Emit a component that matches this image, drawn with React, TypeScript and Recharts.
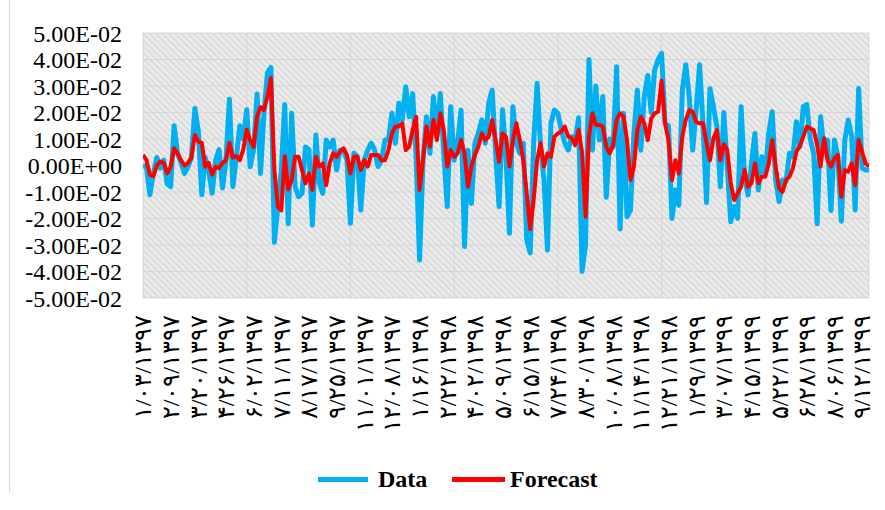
import React from 'react';
import { LineChart, Line, XAxis, YAxis, CartesianGrid } from 'recharts';

// Persian date labels (every 8th observation)
const dateLabels = [
  '۱/۰۳/۱۳۹۷', '۲/۰۹/۱۳۹۷', '۳/۲۰/۱۳۹۷', '۴/۲۶/۱۳۹۷', '۶/۰۲/۱۳۹۷', '۷/۱۱/۱۳۹۷',
  '۸/۱۷/۱۳۹۷', '۹/۲۵/۱۳۹۷', '۱۱/۰۱/۱۳۹۷', '۱۲/۰۸/۱۳۹۷', '۱/۱۶/۱۳۹۸', '۲/۲۲/۱۳۹۸',
  '۴/۰۲/۱۳۹۸', '۵/۰۹/۱۳۹۸', '۶/۱۵/۱۳۹۸', '۷/۲۴/۱۳۹۸', '۸/۳۰/۱۳۹۸', '۱۰/۰۸/۱۳۹۸',
  '۱۱/۱۴/۱۳۹۸', '۱۲/۲۱/۱۳۹۸', '۱/۲۹/۱۳۹۹', '۳/۰۷/۱۳۹۹', '۴/۱۵/۱۳۹۹', '۵/۲۲/۱۳۹۹',
  '۶/۲۸/۱۳۹۹', '۸/۰۶/۱۳۹۹', '۹/۱۲/۱۳۹۹',
];

// values in units of 1E-03
const dataValues = [
  0, -0.5, -11, -3, 3, -1, 2, -7, -8, 15,
  4.5, 1, -3, -0.5, 3, 21.5, 13, -11, 3, -2,
  -10.5, 2, 6, -8.5, 2, 25, -8, 3, 15, 10,
  21, -0.5, 6, 27, -3, 20, 35, 37, -29, -15.5,
  -2, 23, -22, 19.7, -8, -11.8, -10.5, 7, 6, -22.5,
  11.5, -6.7, -10.5, 9.6, 7, 9.6, -1.7, 5.8, 5.8, 2,
  -21.8, 4.6, 3.3, -16.8, 2, 5.8, 8.4, 5.8, -0.4, 2,
  9.6, 9.6, 19.7, 8.4, 23.5, 17.2, 29.7, 18.4, 27.2, 3.3,
  -35.7, 2, 18.4, 4.6, 26, 10.9, 27.2, 4.6, -15.5, 22.2,
  2, 8.4, 20.9, -30.6, 5.8, -14.3, 8.4, 12.1, 17.2, 8.4,
  23.5, 28.5, 4.6, -15.5, 21, 3.3, -25.6, 22.2, 8.4, 4.6,
  8.4, -28, -33, 8.4, 31, 7.1, -5.5, -31.9, 16, 20.9,
  19.7, 13.4, 8.4, 5.8, 10.9, 9.6, 18, -40, -30, 40,
  5.8, 30, 9.6, 26, -12, 10, 7, 37.3, -24, 19.7,
  -19.3, -16.8, 12.1, 28.5, 5.8, 26, 34, 20, 36, 40,
  42.3, 15.9, 15, -20, -9.2, -15, 28.5, 38, 26, 5.8,
  20.9, 38, 15, -14, 29, 22.2, 14.7, -8, 20, -0.4,
  -21.2, -15.5, -19.9, 22.2, -4.2, -11.1, 0.8, 12.1, -9.2, 3.3,
  -3, 12.1, 20.3, -5.5, -13.6, -5.5, -6, 4.6, 3.3, 16.5,
  7.1, 22.2, 23, 10, 4.6, -22, 18.4, 5.8, 9.6, -17,
  9.6, 3.3, -21, 9.6, 17.2, 10.9, -16.8, 29.1, -1, -1.7,
  -1.7,
];

const forecastValues = [
  4, 2, -3.5, -4, 0, 1.5, 1, -3, -0.5, 6.5,
  4.5, 2, 0, 1, 3, 11.5, 9, 8.5, -0.5, 1,
  -3.5, -0.5, -1, 1, 2, 8.5, 3, 3.5, 2, 6,
  13.5, 9.5, 7, 18.5, 22, 21, 26, 33, -1.5, -15.5,
  -17, 3.5, -9, -5.5, 3.3, 3.3, -1.7, -6.7, -3, -9.2,
  3.3, -0.4, 0.8, -7.4, 0.8, 4.6, 3.3, 5.2, 6.5, 4,
  -3, 3.3, 3.3, -1.7, 2, -0.4, 4, 4, 4, 2,
  2, 5.8, 12.1, 14.7, 14.7, 15.9, 5.8, 7.1, 13.4, 18.4,
  -9.2, 2, 14.7, 7.1, 17.2, 9.6, 19.7, 13.4, -0.4, 5.8,
  3.3, 4.6, 9.6, 4.6, -8, -0.4, 4, 7.1, 12.1, 9.6,
  10.9, 17.2, 9.6, 1.4, 12.1, 10.9, -0.4, 9.6, 15.9, 9.6,
  2, -10.5, -24, -13, 2, 8.4, -0.4, 4.6, 3.3, 10.9,
  12.1, 12.8, 14.7, 10.9, 10.3, 7.7, 13.4, 5, -19.3, 11,
  19.7, 15.3, 15.3, 14.7, 7.1, 4.6, 7.7, 17.2, 19.7, 18.4,
  9.6, -5.5, -0.4, 13.4, 18.4, 15.9, 9.6, 17.7, 19.7, 20.3,
  32, 16, 9.6, -5.5, 2, -3, 10.9, 17.2, 20.9, 20.3,
  16.5, 15.9, 15.9, 8.4, 2, 10.3, 13.4, 2, 8, 5.8,
  -6.7, -13, -10.5, -8, -1.7, -8, -6.7, 0.8, -6.7, -4.2,
  -4.2, 0.8, 9.6, -0.4, -8.6, -9.9, -5.5, -4.2, -1, 5.2,
  7.4, 10.9, 14.7, 14, 13.4, 7.7, -0.4, 10.3, 2, -0.4,
  2.7, 4, -11.8, -1.7, -2.3, 0.8, -7.4, 9.6, 5.2, 0.8,
  -0.4,
];

const yTickValues = [-50, -40, -30, -20, -10, 0, 10, 20, 30, 40, 50];
const yTickLabels = [
  '-5.00E-02', '-4.00E-02', '-3.00E-02', '-2.00E-02', '-1.00E-02', '0.00E+00',
  '1.00E-02', '2.00E-02', '3.00E-02', '4.00E-02', '5.00E-02',
];

const labelStep = 8;
const gridStep = 30;

const rows = dataValues.map((v, i) => ({ idx: i, data: v, forecast: forecastValues[i] }));
const lastIdx = rows.length - 1;
const xTicks = dateLabels.map((_, k) => k * labelStep);
const gridTicks: number[] = [];
for (let k = 0; k * gridStep <= lastIdx; k++) gridTicks.push(k * gridStep);

const FONT = "'Liberation Serif', 'Times New Roman', serif";

const XTick = (props: any) => {
  const { x, y, payload } = props;
  const label = dateLabels[Math.round(payload.value / labelStep)];
  const ty = y + 17;
  return (
    <text
      x={x}
      y={ty}
      transform={`rotate(-90, ${x}, ${ty})`}
      textAnchor="end"
      dy="0.35em"
      fontSize={24}
      fontFamily={FONT}
      fill="#000"
      direction="ltr"
    >
      {label}
    </text>
  );
};

export default function App() {
  return (
    <div style={{ position: 'fixed', left: 0, top: 0, width: 885, height: 510, background: '#fff', overflow: 'hidden' }}>
      <svg width={0} height={0} style={{ position: 'absolute' }}>
        <defs>
          <pattern id="hatchBg" width="4.5" height="4.5" patternUnits="userSpaceOnUse" patternTransform="rotate(-45)">
            <rect width="4.5" height="4.5" fill="#ececec" />
            <rect width="2" height="4.5" fill="#dbdbdb" />
          </pattern>
        </defs>
      </svg>
      <div style={{ position: 'absolute', left: 9, top: 0, width: 0, height: 492, borderLeft: '1px solid #d9d9d9' }} />
      <LineChart width={885} height={510} data={rows} margin={{ top: 33, right: 16, left: 0, bottom: 0 }}>
        <CartesianGrid
          xAxisId="grid"
          stroke="#d6d6d6"
          strokeWidth={1}
          fill="url(#hatchBg)"
          fillOpacity={1}
        />
        <XAxis
          type="number"
          dataKey="idx"
          domain={[0, lastIdx]}
          ticks={xTicks}
          interval={0}
          tick={<XTick />}
          axisLine={false}
          tickLine={false}
          tickSize={0}
          tickMargin={0}
          height={212}
          allowDataOverflow
        />
        <XAxis
          xAxisId="grid"
          type="number"
          dataKey="idx"
          domain={[0, lastIdx]}
          ticks={gridTicks}
          interval={0}
          hide
        />
        <YAxis
          type="number"
          domain={[-50, 50]}
          ticks={yTickValues}
          interval={0}
          tickFormatter={(v: number) => yTickLabels[yTickValues.indexOf(v)]}
          axisLine={false}
          tickLine={false}
          tickSize={0}
          tickMargin={21}
          width={143}
          tick={{ fontSize: 24, fontFamily: FONT, fill: '#000' }}
        />
        <Line
          type="linear"
          dataKey="data"
          name="Data"
          stroke="#00B0F0"
          strokeWidth={5}
          dot={false}
          strokeLinejoin="round"
          isAnimationActive={false}
        />
        <Line
          type="linear"
          dataKey="forecast"
          name="Forecast"
          stroke="#FF0000"
          strokeWidth={4}
          dot={false}
          strokeLinejoin="round"
          isAnimationActive={false}
        />
      </LineChart>
      <div style={{ position: 'absolute', left: 318, top: 477, width: 50, height: 5, background: '#00B0F0' }} />
      <div style={{ position: 'absolute', left: 378, top: 465, fontFamily: FONT, fontWeight: 'bold', fontSize: 24, lineHeight: '28px', color: '#000' }}>Data</div>
      <div style={{ position: 'absolute', left: 452, top: 477, width: 53, height: 5, background: '#FF0000' }} />
      <div style={{ position: 'absolute', left: 510, top: 465, fontFamily: FONT, fontWeight: 'bold', fontSize: 24, lineHeight: '28px', color: '#000' }}>Forecast</div>
    </div>
  );
}
